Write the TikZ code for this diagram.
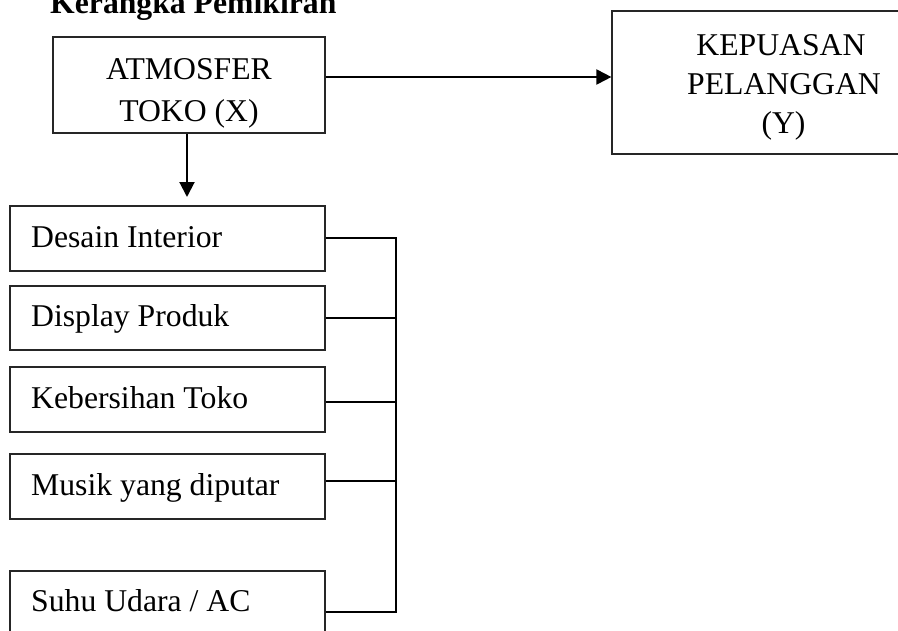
\documentclass[tikz,border=0pt]{standalone}
\usepackage{fontspec}
\setmainfont{Liberation Serif}
\usetikzlibrary{arrows.meta}
\begin{document}
\begin{tikzpicture}[x=1pt,y=-1pt,
  txt/.style={inner sep=0pt,font=\fontsize{31.7}{38}\selectfont},
  box/.style={draw=black!85,line width=1.2pt,inner sep=0pt,rectangle},
  conn/.style={line width=2pt,black},
  arr/.style={line width=2pt,black,-{Triangle[length=15pt,width=15pt]}}]
\clip (0,0) rectangle (898,630);
\useasboundingbox (0,0) rectangle (898,630);
% title
\node[txt,anchor=base west,font=\fontsize{31.7}{38}\selectfont\bfseries] (title) at (50,13.5) {Kerangka Pemikiran};
% X box
\node[box,minimum width=272pt,minimum height=96pt] (X) at (189,85) {};
\node[txt,anchor=base] (x1) at (189,79) {ATMOSFER};
\node[txt,anchor=base] (x2) at (189,121) {TOKO (X)};
% Y box
\node[box,minimum width=345pt,minimum height=143pt] (Y) at (784.5,82.5) {};
\node[txt,anchor=base] (y1) at (781,55) {KEPUASAN};
\node[txt,anchor=base] (y2) at (784,94) {PELANGGAN};
\node[txt,anchor=base] (y3) at (783.5,133) {(Y)};
% indicator boxes
\node[box,minimum width=315pt,minimum height=65pt] (d1) at (167.5,238.5) {};
\node[box,minimum width=315pt,minimum height=64pt] (d2) at (167.5,318) {};
\node[box,minimum width=315pt,minimum height=65pt] (d3) at (167.5,399.5) {};
\node[box,minimum width=315pt,minimum height=65pt] (d4) at (167.5,486.5) {};
\node[box,minimum width=315pt,minimum height=82pt] (d5) at (167.5,612) {};
\node[txt,anchor=base west] (t1) at (31,247) {Desain Interior};
\node[txt,anchor=base west] (t2) at (31,326) {Display Produk};
\node[txt,anchor=base west] (t3) at (31,408) {Kebersihan Toko};
\node[txt,anchor=base west] (t4) at (31,495) {Musik yang diputar};
\node[txt,anchor=base west] (t5) at (31,611) {Suhu Udara / AC};
% arrows
\coordinate (ya) at (0,77);
\draw[arr] (X.east |- ya) -- (Y.west |- ya);
\coordinate (tip) at (187,197);
\draw[arr] (X.south -| tip) -- (tip);
% bus
\coordinate (j1) at (396,238);
\coordinate (j2) at (396,318);
\coordinate (j3) at (396,402);
\coordinate (j4) at (396,481);
\coordinate (j5) at (396,612);
\draw[conn] (d1.east |- j1) -- (j1);
\draw[conn] (d2.east |- j2) -- (j2);
\draw[conn] (d3.east |- j3) -- (j3);
\draw[conn] (d4.east |- j4) -- (j4);
\draw[conn] (d5.east |- j5) -- (j5);
\draw[conn,line cap=rect] (j1) -- (j5);
\end{tikzpicture}
\end{document}
